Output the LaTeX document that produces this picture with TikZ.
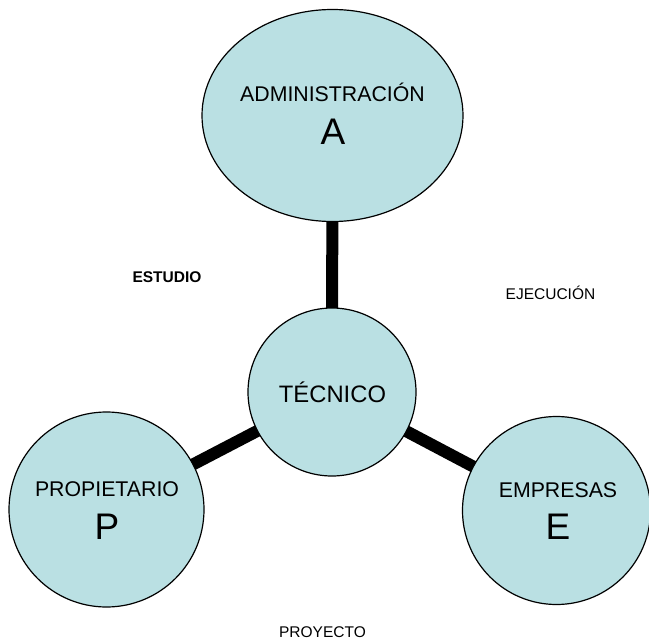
\documentclass[tikz,border=0pt]{standalone}
\usepackage{fontspec}
\setmainfont{Liberation Sans}
\usetikzlibrary{shapes.geometric,backgrounds}
\definecolor{celeste}{RGB}{186,224,227}

\begin{document}
\begin{tikzpicture}[x=1pt,y=-1pt,
    bubble/.style={circle,draw=black,line width=1.2pt,fill=celeste,inner sep=0pt},
    link/.style={line width=12pt,black},
    bubbletext/.style={anchor=base,inner sep=0pt,font=\fontsize{21.3}{25}\selectfont},
    bigletter/.style={anchor=base,inner sep=0pt,font=\fontsize{37}{40}\selectfont},
    stagetext/.style={anchor=base,inner sep=0pt,font=\fontsize{15.5}{18}\selectfont}]
  \useasboundingbox (0,0) rectangle (649,640);

  % the four parties
  \node[bubble,ellipse,minimum width=261pt,minimum height=212pt] (adm) at (332.5,115.5) {};
  \node[bubble,minimum size=168pt] (tec) at (332,392) {};
  \node[bubble,minimum size=195pt] (prop) at (106.5,509.5) {};
  \node[bubble,minimum size=188pt] (emp) at (556.5,510.5) {};

  % thick links behind the bubbles
  \begin{scope}[on background layer]
    \draw[link] (tec.center) -- (adm.center);
    \draw[link] (tec.center) -- (prop.center);
    \draw[link] (tec.center) -- (emp.center);
  \end{scope}

  \node[bubbletext] (admname) at (332.5,101) {ADMINISTRACIÓN};
  \node[bigletter] (admletter) at (333,144) {A};
  \node[bubbletext,font=\fontsize{23.8}{28}\selectfont] (tecname) at (332.5,402) {TÉCNICO};
  \node[bubbletext] (propname) at (107,496) {PROPIETARIO};
  \node[bigletter] (propletter) at (107,539) {P};
  \node[bubbletext] (empname) at (558,497) {EMPRESAS};
  \node[bigletter] (empletter) at (558,539) {E};

  % the stages
  \node[stagetext,font=\fontsize{15.5}{18}\selectfont\bfseries] (estudio) at (167,282) {ESTUDIO};
  \node[stagetext] (ejecucion) at (550.5,299) {EJECUCIÓN};
  \node[stagetext] (proyecto) at (322.5,637) {PROYECTO};
\end{tikzpicture}
\end{document}
